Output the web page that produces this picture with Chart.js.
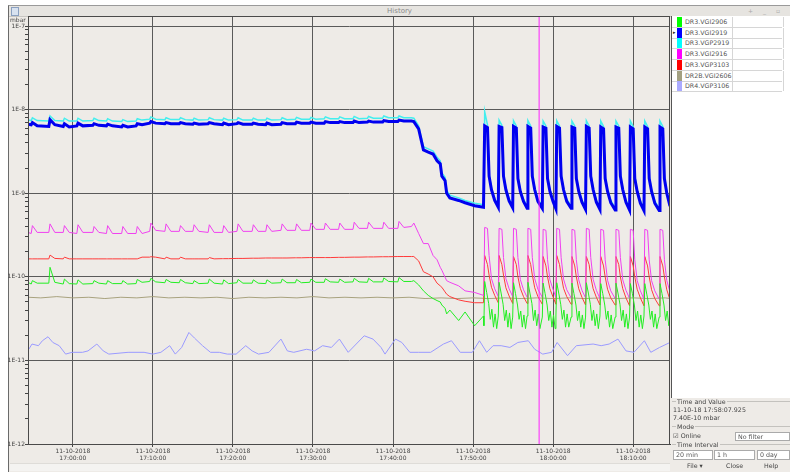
<!DOCTYPE html>
<html>
<head>
<meta charset="utf-8">
<script src="https://cdn.jsdelivr.net/npm/chart.js@4.4.0/dist/chart.umd.min.js"></script>
<style>
  body { margin: 0; background: #fff; font-family: "DejaVu Sans", sans-serif; color: #444; }
  #win { position: absolute; left: 8px; top: 5px; width: 782px; height: 467px; background: #eeebe7; border-left: 1px solid #6a6a6a; border-top: 1px solid #9a9a9a; }
  #titlebar { position: absolute; left: 9px; top: 6px; width: 781px; height: 10px; background: #e6e4e0; border-bottom: 1px solid #c8c6c2; font-size: 7px; line-height: 10px; text-align: center; color: #8a8a8a; }
  #titlebar .ico { position: absolute; left: 2px; top: 1px; width: 6px; height: 7px; border: 1px solid #8aa0c0; background: #d8e2f0; }
  #titlebar .ctl { position: absolute; right: 6px; top: 0; font-size: 6px; color: #aaa; letter-spacing: 4px; }
  #chart { position: absolute; left: 0; top: 0; }
  .t { position: absolute; white-space: nowrap; font-size: 6.3px; line-height: 8px; color: #444; }
  #side { position: absolute; left: 671px; top: 16px; width: 119px; height: 382px; background: #fff; border-left: 1px solid #555; }
  .row { position: absolute; left: 0; width: 110px; height: 10px; border-bottom: 1px solid #d6d6d6; }
  .row .sw { position: absolute; left: 5px; top: 0; width: 5px; height: 10px; }
  .row .nm { position: absolute; left: 13px; top: 1px; font-size: 6.3px; line-height: 8px; color: #555; }
  .row .cell { position: absolute; left: 60px; top: 0; width: 50px; height: 10px; border-left: 1px solid #d6d6d6; border-right: 1px solid #d6d6d6; }
  .box { position: absolute; background: #fff; border: 1px solid #aaa; font-size: 6.3px; line-height: 8px; color: #555; padding-left: 2px; box-sizing: border-box; }
  .sep { position: absolute; height: 0; border-top: 1px solid #c4c2be; }
  #scroll { position: absolute; left: 10px; top: 463px; width: 660px; height: 7px; background: #f4f3f1; border-top: 1px solid #dedcd8; }
</style>
</head>
<body>
<div id="win"></div>
<div id="titlebar"><div class="ico"></div>History<div class="ctl">+ _ ▫</div></div>
<div id="scroll"></div>
<canvas id="chart" width="790" height="472"></canvas>
<div class="t" style="left:10px;top:16px;font-size:6px;">mbar</div>
<div id="side"></div>
<div id="panel"></div>

<script>
// --- data ---
const seriesNames = ["DR3.VGI2906", "DR3.VGI2919", "DR3.VGP2919", "DR3.VGI2916", "DR3.VGP3103", "DR2B.VGI2606", "DR4.VGP3106"];
const swatchColors = ["#00ff00", "#0000ff", "#00ffff", "#ff00ff", "#ff0000", "#a3a081", "#aaaaff"];
const lineColors = ["#22ee22", "#0000f0", "#44eeee", "#f040f0", "#ff3a3a", "#a8a27e", "#9a9aff"];

const dateLabel = "11-10-2018";
const xTicks = [0, 10, 20, 30, 40, 50, 60, 70];          // minutes after 17:00
const xTickTimes = ["17:00:00", "17:10:00", "17:20:00", "17:30:00", "17:40:00", "17:50:00", "18:00:00", "18:10:00"];
const yTickLabels = ["1E-12", "1E-11", "1E-10", "1E-9", "1E-8", "1E-7"];
const cursorT = 58.25;

// shared time grid (minutes after 17:00) for the DR3 series
const T = [
  -5.6,
  -5.2, -5.05, -4.45, -3.0, -2.85, -2.25, -1.2, -1.05, -0.45, 0.5, 0.65, 1.25,
  2.5, 2.65, 3.25, 4.2, 4.35, 4.95, 6.1, 6.25, 6.85, 7.9, 8.05, 8.65,
  9.6, 9.75, 10.35, 11.5, 11.65, 12.25, 13.3, 13.45, 14.05, 15.0, 15.15, 15.75,
  16.9, 17.05, 17.65, 18.7, 18.85, 19.45, 20.5, 20.65, 21.25, 22.4, 22.55, 23.15,
  24.1, 24.25, 24.85, 26.0, 26.15, 26.75, 27.8, 27.95, 28.55, 29.6, 29.75, 30.35,
  31.4, 31.55, 32.15, 33.2, 33.35, 33.95, 35.0, 35.15, 35.75, 36.8, 36.95, 37.55,
  38.7, 38.85, 39.45, 40.6, 40.75, 41.35,
  42.3, 42.6, 43.2, 43.8, 44.4, 45.0, 45.5, 45.9, 46.1, 46.5, 46.7, 47.1, 48.2, 49.0, 50.2, 51.3,
  51.35, 51.45, 51.8, 52.0, 52.3, 52.7,
  53.15, 53.25, 53.6, 53.8, 54.1, 54.5,
  54.95, 55.05, 55.4, 55.6, 55.9, 56.3,
  56.75, 56.85, 57.2, 57.4, 57.7, 58.1,
  58.65, 58.75, 59.1, 59.3, 59.6, 60.0,
  60.35, 60.45, 60.8, 61.0, 61.3, 61.7,
  62.25, 62.35, 62.7, 62.9, 63.2, 63.6,
  64.05, 64.15, 64.5, 64.7, 65.0, 65.4,
  65.85, 65.95, 66.3, 66.5, 66.8, 67.2,
  67.75, 67.85, 68.2, 68.4, 68.7, 69.1,
  69.55, 69.65, 70.0, 70.2, 70.5, 70.9,
  71.35, 71.45, 71.8, 72.0, 72.3, 72.7,
  73.25, 73.35, 73.7, 73.9, 74.2, 74.6
];

// DR3.VGI2906 (green) up to 51.3 on the shared grid, then its own denser grid
const greenV = [
  8.6e-11,
  8.2e-11, 9.0e-11, 8.4e-11, 8.4e-11, 1.3e-10, 8.6e-11, 8.2e-11, 9.4e-11, 8.3e-11, 8.2e-11, 9.2e-11, 8.2e-11,
  8.3e-11, 9.0e-11, 8.4e-11, 8.2e-11, 9.0e-11, 8.3e-11, 8.3e-11, 9.0e-11, 8.2e-11, 8.3e-11, 9.3e-11, 8.6e-11,
  8.8e-11, 9.6e-11, 8.7e-11, 8.5e-11, 9.3e-11, 8.6e-11, 8.5e-11, 9.3e-11, 8.5e-11, 8.3e-11, 9.0e-11, 8.3e-11,
  8.4e-11, 9.4e-11, 8.4e-11, 8.2e-11, 9.2e-11, 8.3e-11, 8.5e-11, 9.3e-11, 8.4e-11, 8.4e-11, 9.2e-11, 8.4e-11,
  8.3e-11, 9.2e-11, 8.4e-11, 8.5e-11, 9.4e-11, 8.5e-11, 8.5e-11, 9.3e-11, 8.5e-11, 8.6e-11, 9.4e-11, 8.6e-11,
  8.6e-11, 9.5e-11, 8.7e-11, 8.6e-11, 9.4e-11, 8.6e-11, 8.7e-11, 9.6e-11, 8.7e-11, 8.6e-11, 9.6e-11, 8.7e-11,
  8.7e-11, 9.7e-11, 8.8e-11, 8.7e-11, 9.8e-11, 8.8e-11,
  8.8e-11, 9.0e-11, 8.0e-11, 6.8e-11, 6.0e-11, 5.5e-11, 5.2e-11, 5.0e-11, 4.6e-11, 4.2e-11, 3.6e-11, 4.0e-11, 3.0e-11, 3.8e-11, 2.6e-11, 3.4e-11
];
const greenPulseT = [
  51.35, 51.45, 51.7, 51.95, 52.15, 52.35, 52.55, 52.75, 52.95,
  53.15, 53.25, 53.5, 53.75, 53.95, 54.15, 54.35, 54.55, 54.75,
  54.95, 55.05, 55.3, 55.55, 55.75, 55.95, 56.15, 56.35, 56.55,
  56.75, 56.85, 57.1, 57.35, 57.55, 57.75, 57.95, 58.15, 58.35,
  58.65, 58.75, 59.0, 59.25, 59.45, 59.65, 59.85, 60.05, 60.25,
  60.35, 60.45, 60.7, 60.95, 61.15, 61.35, 61.55, 61.75, 61.95,
  62.25, 62.35, 62.6, 62.85, 63.05, 63.25, 63.45, 63.65, 63.85,
  64.05, 64.15, 64.4, 64.65, 64.85, 65.05, 65.25, 65.45, 65.65,
  65.85, 65.95, 66.2, 66.45, 66.65, 66.85, 67.05, 67.25, 67.45,
  67.75, 67.85, 68.1, 68.35, 68.55, 68.75, 68.95, 69.15, 69.35,
  69.55, 69.65, 69.9, 70.15, 70.35, 70.55, 70.75, 70.95, 71.15,
  71.35, 71.45, 71.7, 71.95, 72.15, 72.35, 72.55, 72.75, 72.95,
  73.25, 73.35, 73.6, 73.85, 74.05, 74.25, 74.45, 74.6
];
const greenPulseV = [
  2.6e-11, 8.8e-11, 6.5e-11, 4.8e-11, 3.1e-11, 4.1e-11, 2.5e-11, 3.6e-11, 2.4e-11,
  3.4e-11, 8.6e-11, 6.4e-11, 4.7e-11, 3.0e-11, 4.0e-11, 2.5e-11, 3.7e-11, 2.4e-11,
  3.3e-11, 8.5e-11, 6.3e-11, 4.6e-11, 3.1e-11, 3.9e-11, 2.5e-11, 3.5e-11, 2.4e-11,
  3.4e-11, 8.6e-11, 6.4e-11, 4.8e-11, 3.0e-11, 4.0e-11, 2.6e-11, 3.6e-11, 2.4e-11,
  3.3e-11, 8.4e-11, 6.3e-11, 4.6e-11, 3.0e-11, 3.9e-11, 2.5e-11, 3.5e-11, 2.4e-11,
  3.4e-11, 8.5e-11, 6.4e-11, 4.7e-11, 3.1e-11, 4.0e-11, 2.5e-11, 3.6e-11, 2.5e-11,
  3.3e-11, 8.4e-11, 6.3e-11, 4.6e-11, 3.0e-11, 3.9e-11, 2.5e-11, 3.5e-11, 2.4e-11,
  3.3e-11, 8.5e-11, 6.4e-11, 4.7e-11, 3.0e-11, 4.0e-11, 2.6e-11, 3.6e-11, 2.4e-11,
  3.4e-11, 8.3e-11, 6.3e-11, 4.6e-11, 3.1e-11, 3.9e-11, 2.5e-11, 3.5e-11, 2.4e-11,
  3.3e-11, 8.4e-11, 6.4e-11, 4.7e-11, 3.0e-11, 4.0e-11, 2.5e-11, 3.6e-11, 2.4e-11,
  3.3e-11, 8.3e-11, 6.3e-11, 4.6e-11, 3.0e-11, 3.9e-11, 2.5e-11, 3.5e-11, 2.4e-11,
  3.4e-11, 8.3e-11, 6.2e-11, 4.6e-11, 3.1e-11, 3.9e-11, 2.5e-11, 3.6e-11, 2.4e-11,
  3.3e-11, 8.3e-11, 6.3e-11, 4.6e-11, 3.0e-11, 3.9e-11, 2.6e-11, 3.4e-11
];

const blueV = [
  6.7e-9,
  6.6e-9, 7.0e-9, 6.4e-9, 6.3e-9, 7.6e-9, 6.6e-9, 6.3e-9, 6.8e-9, 6.2e-9, 6.4e-9, 6.9e-9, 6.4e-9,
  6.5e-9, 6.8e-9, 6.5e-9, 6.4e-9, 6.7e-9, 6.4e-9, 6.2e-9, 6.5e-9, 6.2e-9, 6.4e-9, 6.8e-9, 6.6e-9,
  6.9e-9, 7.2e-9, 6.9e-9, 6.8e-9, 7.0e-9, 6.8e-9, 6.8e-9, 7.0e-9, 6.8e-9, 6.7e-9, 6.9e-9, 6.7e-9,
  6.8e-9, 7.0e-9, 6.8e-9, 6.6e-9, 6.9e-9, 6.6e-9, 6.8e-9, 7.0e-9, 6.7e-9, 6.7e-9, 6.9e-9, 6.7e-9,
  6.6e-9, 6.9e-9, 6.6e-9, 6.7e-9, 7.0e-9, 6.8e-9, 6.8e-9, 7.1e-9, 6.9e-9, 6.9e-9, 7.1e-9, 6.9e-9,
  6.9e-9, 7.2e-9, 7.0e-9, 7.0e-9, 7.2e-9, 7.0e-9, 7.0e-9, 7.3e-9, 7.0e-9, 7.1e-9, 7.3e-9, 7.1e-9,
  7.1e-9, 7.4e-9, 7.2e-9, 7.2e-9, 7.5e-9, 7.3e-9,
  7.3e-9, 7.2e-9, 5.9e-9, 3.3e-9, 3.1e-9, 2.95e-9, 2.45e-9, 2.25e-9, 1.6e-9, 1.42e-9, 1.0e-9, 8.8e-10, 8.2e-10, 7.7e-10, 7.1e-10, 6.8e-10,
  6.8e-10, 6.4e-9, 6.1e-9, 1.6e-9, 1.1e-9, 8.2e-10,
  6.8e-10, 6.3e-9, 6.1e-9, 1.6e-9, 1.1e-9, 8.1e-10,
  6.7e-10, 6.3e-9, 6.0e-9, 1.5e-9, 1.05e-9, 8.0e-10,
  6.6e-10, 6.3e-9, 6.0e-9, 1.6e-9, 1.1e-9, 8.0e-10,
  6.6e-10, 6.2e-9, 6.0e-9, 1.5e-9, 1.05e-9, 7.9e-10,
  6.5e-10, 6.3e-9, 6.0e-9, 1.6e-9, 1.1e-9, 8.0e-10,
  6.6e-10, 6.2e-9, 6.0e-9, 1.5e-9, 1.05e-9, 7.8e-10,
  6.4e-10, 6.3e-9, 6.0e-9, 1.6e-9, 1.1e-9, 7.8e-10,
  6.4e-10, 6.2e-9, 5.9e-9, 1.5e-9, 1.05e-9, 7.7e-10,
  6.3e-10, 6.2e-9, 6.0e-9, 1.6e-9, 1.1e-9, 7.8e-10,
  6.3e-10, 6.2e-9, 5.9e-9, 1.5e-9, 1.05e-9, 7.6e-10,
  6.2e-10, 6.2e-9, 5.9e-9, 1.5e-9, 1.05e-9, 7.6e-10,
  6.2e-10, 6.2e-9, 5.9e-9, 1.5e-9, 1.0e-9, 7.0e-10
];

const cyanV = [
  7.5e-9,
  7.4e-9, 8.0e-9, 7.4e-9, 7.3e-9, 8.4e-9, 7.4e-9, 7.3e-9, 7.9e-9, 7.3e-9, 7.3e-9, 7.9e-9, 7.3e-9,
  7.4e-9, 7.9e-9, 7.4e-9, 7.3e-9, 7.8e-9, 7.3e-9, 7.2e-9, 7.6e-9, 7.2e-9, 7.3e-9, 7.8e-9, 7.5e-9,
  7.7e-9, 8.2e-9, 7.7e-9, 7.6e-9, 8.0e-9, 7.6e-9, 7.6e-9, 8.0e-9, 7.6e-9, 7.5e-9, 7.9e-9, 7.5e-9,
  7.6e-9, 8.0e-9, 7.6e-9, 7.5e-9, 7.9e-9, 7.5e-9, 7.6e-9, 8.0e-9, 7.5e-9, 7.5e-9, 7.9e-9, 7.5e-9,
  7.5e-9, 7.9e-9, 7.5e-9, 7.6e-9, 8.0e-9, 7.6e-9, 7.7e-9, 8.1e-9, 7.7e-9, 7.7e-9, 8.1e-9, 7.7e-9,
  7.8e-9, 8.2e-9, 7.8e-9, 7.8e-9, 8.2e-9, 7.8e-9, 7.8e-9, 8.3e-9, 7.8e-9, 7.9e-9, 8.3e-9, 7.9e-9,
  7.9e-9, 8.4e-9, 8.0e-9, 8.0e-9, 8.4e-9, 8.0e-9,
  8.0e-9, 7.9e-9, 6.4e-9, 3.6e-9, 3.4e-9, 3.2e-9, 2.7e-9, 2.45e-9, 1.75e-9, 1.55e-9, 1.08e-9, 9.5e-10, 8.8e-10, 8.2e-10, 7.6e-10, 7.3e-10,
  7.2e-10, 9.5e-9, 6.6e-9, 1.7e-9, 1.15e-9, 8.7e-10,
  7.2e-10, 7.5e-9, 6.5e-9, 1.7e-9, 1.15e-9, 8.6e-10,
  7.1e-10, 7.4e-9, 6.4e-9, 1.6e-9, 1.1e-9, 8.5e-10,
  7.0e-10, 7.4e-9, 6.4e-9, 1.7e-9, 1.15e-9, 8.5e-10,
  7.0e-10, 7.3e-9, 6.4e-9, 1.6e-9, 1.1e-9, 8.4e-10,
  6.9e-10, 7.4e-9, 6.4e-9, 1.7e-9, 1.15e-9, 8.5e-10,
  7.0e-10, 7.3e-9, 6.4e-9, 1.6e-9, 1.1e-9, 8.3e-10,
  6.8e-10, 7.4e-9, 6.4e-9, 1.7e-9, 1.15e-9, 8.3e-10,
  6.8e-10, 7.3e-9, 6.3e-9, 1.6e-9, 1.1e-9, 8.2e-10,
  6.7e-10, 7.3e-9, 6.4e-9, 1.7e-9, 1.15e-9, 8.3e-10,
  6.7e-10, 7.3e-9, 6.3e-9, 1.6e-9, 1.1e-9, 8.1e-10,
  6.6e-10, 7.3e-9, 6.3e-9, 1.6e-9, 1.1e-9, 8.1e-10,
  6.6e-10, 7.3e-9, 6.3e-9, 1.6e-9, 1.05e-9, 7.4e-10
];

const magentaV = [
  3.4e-10,
  3.3e-10, 4.1e-10, 3.4e-10, 3.4e-10, 4.3e-10, 3.4e-10, 3.4e-10, 4.1e-10, 3.4e-10, 3.3e-10, 4.2e-10, 3.4e-10,
  3.4e-10, 4.0e-10, 3.4e-10, 3.3e-10, 4.1e-10, 3.3e-10, 3.3e-10, 4.0e-10, 3.3e-10, 3.3e-10, 4.0e-10, 3.3e-10,
  3.5e-10, 4.4e-10, 3.6e-10, 3.5e-10, 4.3e-10, 3.5e-10, 3.5e-10, 4.1e-10, 3.5e-10, 3.5e-10, 4.2e-10, 3.5e-10,
  3.4e-10, 4.2e-10, 3.4e-10, 3.4e-10, 4.1e-10, 3.4e-10, 3.5e-10, 4.3e-10, 3.5e-10, 3.5e-10, 4.2e-10, 3.5e-10,
  3.5e-10, 4.2e-10, 3.5e-10, 3.6e-10, 4.3e-10, 3.6e-10, 3.6e-10, 4.3e-10, 3.6e-10, 3.6e-10, 4.4e-10, 3.7e-10,
  3.7e-10, 4.4e-10, 3.7e-10, 3.7e-10, 4.4e-10, 3.7e-10, 3.7e-10, 4.5e-10, 3.8e-10, 3.8e-10, 4.5e-10, 3.8e-10,
  3.8e-10, 4.5e-10, 3.8e-10, 3.8e-10, 4.6e-10, 3.9e-10,
  4.0e-10, 4.4e-10, 3.3e-10, 2.5e-10, 2.5e-10, 1.8e-10, 1.6e-10, 1.3e-10, 1.2e-10, 9.9e-11, 9.0e-11, 8.6e-11, 7.8e-11, 6.8e-11, 6.5e-11, 6.0e-11,
  5.9e-11, 3.9e-10, 3.8e-10, 1.8e-10, 9.5e-11, 7.2e-11,
  5.8e-11, 3.8e-10, 3.7e-10, 1.7e-10, 9.5e-11, 7.2e-11,
  5.8e-11, 3.8e-10, 3.7e-10, 1.7e-10, 9.3e-11, 7.0e-11,
  5.7e-11, 3.8e-10, 3.7e-10, 1.7e-10, 9.5e-11, 7.1e-11,
  5.7e-11, 3.7e-10, 3.6e-10, 1.6e-10, 9.2e-11, 7.0e-11,
  5.7e-11, 3.8e-10, 3.7e-10, 1.7e-10, 9.4e-11, 7.0e-11,
  5.6e-11, 3.7e-10, 3.6e-10, 1.6e-10, 9.2e-11, 6.9e-11,
  5.6e-11, 3.8e-10, 3.7e-10, 1.7e-10, 9.3e-11, 6.9e-11,
  5.5e-11, 3.7e-10, 3.6e-10, 1.6e-10, 9.1e-11, 6.8e-11,
  5.5e-11, 3.7e-10, 3.6e-10, 1.7e-10, 9.2e-11, 6.9e-11,
  5.5e-11, 3.7e-10, 3.6e-10, 1.6e-10, 9.0e-11, 6.8e-11,
  5.4e-11, 3.7e-10, 3.6e-10, 1.6e-10, 9.0e-11, 6.8e-11,
  5.4e-11, 3.7e-10, 3.6e-10, 1.6e-10, 9.0e-11, 6.6e-11
];

const redV = [
  1.64e-10,
  1.64e-10, 1.64e-10, 1.64e-10, 1.64e-10, 1.82e-10, 1.66e-10, 1.64e-10, 1.72e-10, 1.64e-10, 1.64e-10, 1.64e-10, 1.64e-10,
  1.64e-10, 1.64e-10, 1.64e-10, 1.64e-10, 1.64e-10, 1.64e-10, 1.64e-10, 1.64e-10, 1.64e-10, 1.64e-10, 1.64e-10, 1.72e-10,
  1.72e-10, 1.74e-10, 1.72e-10, 1.64e-10, 1.72e-10, 1.64e-10, 1.64e-10, 1.72e-10, 1.64e-10, 1.64e-10, 1.64e-10, 1.64e-10,
  1.64e-10, 1.70e-10, 1.64e-10, 1.65e-10, 1.65e-10, 1.65e-10, 1.66e-10, 1.66e-10, 1.66e-10, 1.67e-10, 1.67e-10, 1.67e-10,
  1.68e-10, 1.68e-10, 1.68e-10, 1.68e-10, 1.68e-10, 1.68e-10, 1.69e-10, 1.69e-10, 1.69e-10, 1.70e-10, 1.70e-10, 1.70e-10,
  1.70e-10, 1.70e-10, 1.70e-10, 1.71e-10, 1.71e-10, 1.71e-10, 1.72e-10, 1.72e-10, 1.72e-10, 1.73e-10, 1.73e-10, 1.73e-10,
  1.74e-10, 1.74e-10, 1.74e-10, 1.75e-10, 1.75e-10, 1.75e-10,
  1.75e-10, 1.75e-10, 1.55e-10, 1.15e-10, 1.08e-10, 1.0e-10, 8.4e-11, 7.8e-11, 7.5e-11, 6.6e-11, 6.2e-11, 5.8e-11, 5.3e-11, 5.1e-11, 4.9e-11, 4.9e-11,
  4.9e-11, 1.8e-10, 1.4e-10, 1.05e-10, 7.5e-11, 6.0e-11,
  4.9e-11, 1.8e-10, 1.4e-10, 1.05e-10, 7.4e-11, 5.9e-11,
  4.8e-11, 1.75e-10, 1.4e-10, 1.0e-10, 7.3e-11, 5.8e-11,
  4.8e-11, 1.8e-10, 1.4e-10, 1.05e-10, 7.4e-11, 5.8e-11,
  4.7e-11, 1.75e-10, 1.35e-10, 1.0e-10, 7.2e-11, 5.7e-11,
  4.7e-11, 1.8e-10, 1.4e-10, 1.05e-10, 7.3e-11, 5.8e-11,
  4.7e-11, 1.75e-10, 1.35e-10, 1.0e-10, 7.2e-11, 5.7e-11,
  4.6e-11, 1.75e-10, 1.4e-10, 1.0e-10, 7.2e-11, 5.7e-11,
  4.6e-11, 1.75e-10, 1.35e-10, 1.0e-10, 7.1e-11, 5.6e-11,
  4.6e-11, 1.75e-10, 1.4e-10, 1.0e-10, 7.2e-11, 5.6e-11,
  4.5e-11, 1.75e-10, 1.35e-10, 1.0e-10, 7.1e-11, 5.6e-11,
  4.5e-11, 1.75e-10, 1.35e-10, 1.0e-10, 7.0e-11, 5.5e-11,
  4.5e-11, 1.75e-10, 1.35e-10, 1.0e-10, 7.0e-11, 5.3e-11
];

// DR2B.VGI2606 (olive)
const oliveT = [-5.6, -4, -2, 0, 2, 4, 6, 8, 10, 12, 14, 16, 18, 20, 22, 24, 26, 28, 30, 32, 34, 36, 38, 40, 42, 44, 46, 48, 50, 52, 54, 56, 58, 60, 62, 64, 66, 68, 70, 72, 74, 74.6];
const oliveV = [
  5.7e-11, 5.6e-11, 5.8e-11, 5.6e-11, 5.7e-11, 5.5e-11, 5.7e-11, 5.6e-11, 5.8e-11, 5.6e-11,
  5.7e-11, 5.6e-11, 5.7e-11, 5.5e-11, 5.7e-11, 5.6e-11, 5.7e-11, 5.6e-11, 5.8e-11, 5.6e-11,
  5.7e-11, 5.6e-11, 5.7e-11, 5.6e-11, 5.7e-11, 5.5e-11, 5.6e-11, 5.5e-11, 5.6e-11, 5.5e-11,
  5.6e-11, 5.5e-11, 5.6e-11, 5.5e-11, 5.6e-11, 5.5e-11, 5.6e-11, 5.5e-11, 5.6e-11, 5.5e-11,
  5.6e-11, 5.5e-11
];

// DR4.VGP3106 (lavender)
const lavT = [
  -5.5, -5.1, -4.3, -3.8, -3.1, -2.5, -1.7, -0.9, -0.1, 1.2, 1.9, 3.0, 3.8, 4.5, 6.9, 8.9, 10.0, 11.0, 12.1, 12.8,
  13.6, 14.5, 15.2, 16.2, 17.2, 18.3, 19.3, 20.4, 21.6, 22.4, 23.2, 24.5, 26.0, 26.8, 27.6, 29.2, 30.2, 31.2, 32.3, 33.3,
  34.4, 35.4, 36.4, 37.5, 38.5, 39.0, 40.3, 41.1, 42.1, 43.2, 44.7, 46.3, 47.3, 48.4, 49.9, 50.8, 51.7, 52.5, 53.5, 54.6,
  55.6, 56.9, 57.7, 58.7, 59.8, 60.5, 61.8, 62.9, 65.0, 66.0, 67.0, 68.1, 69.1, 70.1, 71.4, 72.2, 73.3, 74.6
];
const lavV = [
  1.36e-11, 1.57e-11, 1.5e-11, 1.72e-11, 1.92e-11, 1.64e-11, 1.5e-11, 1.19e-11, 1.25e-11, 1.25e-11,
  1.3e-11, 1.57e-11, 1.3e-11, 1.19e-11, 1.25e-11, 1.25e-11, 1.19e-11, 1.25e-11, 1.5e-11, 1.19e-11,
  1.43e-11, 2.16e-11, 1.85e-11, 1.5e-11, 1.25e-11, 1.25e-11, 1.19e-11, 1.19e-11, 1.5e-11, 1.3e-11,
  1.19e-11, 1.25e-11, 1.8e-11, 1.3e-11, 1.25e-11, 1.36e-11, 1.3e-11, 1.5e-11, 1.43e-11, 1.8e-11,
  1.25e-11, 1.57e-11, 1.97e-11, 1.8e-11, 1.43e-11, 1.19e-11, 1.8e-11, 1.64e-11, 1.25e-11, 1.25e-11,
  1.25e-11, 1.57e-11, 1.72e-11, 1.25e-11, 1.25e-11, 1.72e-11, 1.25e-11, 1.5e-11, 1.5e-11, 1.43e-11,
  1.64e-11, 1.72e-11, 1.36e-11, 1.19e-11, 1.25e-11, 1.64e-11, 1.14e-11, 1.5e-11, 1.57e-11, 1.5e-11,
  1.57e-11, 1.8e-11, 1.3e-11, 1.25e-11, 1.72e-11, 1.25e-11, 1.43e-11, 1.64e-11
];

const yMin = 1e-12;
const yMax = 1.32e-7;

// --- helpers ---
function pts(t, v) {
  return t.map((x, i) => ({ x: x, y: v[i] }));
}
function isDecade(v) {
  const l = Math.log10(v);
  return Math.abs(l - Math.round(l)) < 1e-6;
}

const greenData = pts(T.slice(0, greenV.length), greenV).concat(pts(greenPulseT, greenPulseV));

const seriesData = [
  greenData, pts(T, blueV), pts(T, cyanV), pts(T, magentaV), pts(T, redV), pts(oliveT, oliveV), pts(lavT, lavV)
];
const lineWidths = [1, 3, 1.5, 1, 1, 1, 1];

const datasets = seriesData.map((d, i) => ({
  label: seriesNames[i],
  data: d,
  borderColor: lineColors[i],
  borderWidth: lineWidths[i],
  pointRadius: 0,
  tension: 0,
  fill: false,
  order: 1,
}));
// cursor line, drawn over the series
datasets.push({
  label: "cursor",
  data: [{ x: cursorT, y: yMin }, { x: cursorT, y: yMax }],
  borderColor: "#ff22ff",
  borderWidth: 1,
  pointRadius: 0,
  order: 0,
});

// frame round the plot area
const framePlugin = {
  id: "frame",
  afterDraw(chart) {
    const a = chart.chartArea;
    const c = chart.ctx;
    c.save();
    c.strokeStyle = "#4a4a4a";
    c.lineWidth = 1;
    c.strokeRect(Math.round(a.left) + 0.5, Math.round(a.top) + 0.5, Math.round(a.right - a.left) - 1, Math.round(a.bottom - a.top));
    c.restore();
  },
};

const smallFont = { family: "DejaVu Sans", size: 6 };

new Chart(document.getElementById("chart"), {
  type: "line",
  data: { datasets: datasets },
  options: {
    responsive: false,
    animation: false,
    devicePixelRatio: 1,
    layout: { padding: { left: 3, top: 16, right: 120, bottom: 0 } },
    plugins: { legend: { display: false }, tooltip: { enabled: false } },
    scales: {
      x: {
        type: "linear",
        min: -5.6,
        max: 74.6,
        afterBuildTicks: (s) => { s.ticks = xTicks.map((v) => ({ value: v })); },
        afterFit: (s) => { s.height = 28; },
        ticks: {
          autoSkip: false,
          maxRotation: 0,
          padding: 1,
          color: "#444",
          font: smallFont,
          callback: (v) => [dateLabel, xTickTimes[xTicks.indexOf(v)]],
        },
        grid: { color: "#5a5a5a", tickColor: "#444", tickLength: 3 },
        border: { color: "#444" },
      },
      y: {
        type: "logarithmic",
        min: yMin,
        max: yMax,
        afterBuildTicks: (s) => {
          const t = [];
          for (let e = -12; e <= -8; e++) {
            for (let k = 1; k <= 9; k++) t.push({ value: k * Math.pow(10, e) });
          }
          t.push({ value: 1e-7 });
          s.ticks = t;
        },
        afterFit: (s) => { s.width = 25; },
        ticks: {
          autoSkip: false,
          padding: 0,
          color: "#444",
          font: smallFont,
          callback: (v) => (isDecade(v) ? yTickLabels[Math.round(Math.log10(v)) + 12] : ""),
        },
        grid: {
          color: (c) => (c.tick && isDecade(c.tick.value) ? "#5a5a5a" : "rgba(0,0,0,0)"),
          tickColor: "#444",
          tickLength: 3,
        },
        border: { color: "#444" },
      },
    },
  },
  plugins: [framePlugin],
});

// --- legend table on the right ---
const side = document.getElementById("side");
seriesNames.forEach((name, i) => {
  const r = document.createElement("div");
  r.className = "row";
  r.style.top = (1 + i * 10.7) + "px";
  r.innerHTML = '<div class="sw" style="background:' + swatchColors[i] + '"></div>' +
    '<div class="nm">' + name + '</div><div class="cell"></div>';
  side.appendChild(r);
});
const mark = document.createElement("div");
mark.className = "t";
mark.style.cssText = "left:1px;top:12px;font-size:5px;color:#222;";
mark.textContent = "▸";
side.appendChild(mark);

// --- bottom right controls ---
const panel = document.getElementById("panel");
panel.innerHTML = `
  <div class="sep" style="left:672px;top:401px;width:118px;"></div>
  <div class="t" style="left:676px;top:398px;background:#eeebe7;padding:0 1px;">Time and Value</div>
  <div class="t" style="left:673px;top:406px;">11-10-18 17:58:07.925</div>
  <div class="t" style="left:673px;top:414px;">7.40E-10 mbar</div>
  <div class="sep" style="left:672px;top:426px;width:118px;"></div>
  <div class="t" style="left:676px;top:423px;background:#eeebe7;padding:0 1px;">Mode</div>
  <div class="t" style="left:673px;top:432px;">&#9745; Online</div>
  <div class="box" style="left:735px;top:432px;width:55px;height:9px;">No filter</div>
  <div class="sep" style="left:672px;top:444px;width:118px;"></div>
  <div class="t" style="left:676px;top:441px;background:#eeebe7;padding:0 1px;">Time Interval</div>
  <div class="box" style="left:673px;top:450px;width:40px;height:10px;">20 min</div>
  <div class="box" style="left:714px;top:450px;width:41px;height:10px;">1 h</div>
  <div class="box" style="left:757px;top:450px;width:33px;height:10px;">0 day</div>
  <div class="t" style="left:687px;top:462px;">File &#9662;</div>
  <div class="t" style="left:726px;top:462px;">Close</div>
  <div class="t" style="left:764px;top:462px;">Help</div>
`;
</script>
</body>
</html>
